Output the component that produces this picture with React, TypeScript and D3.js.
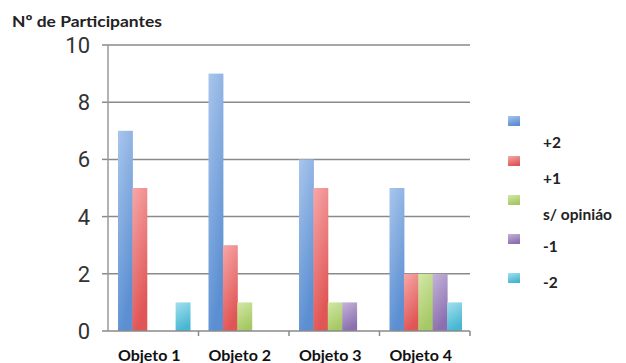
import React from "react";
import * as d3 from "d3";

const categories = ["Objeto 1", "Objeto 2", "Objeto 3", "Objeto 4"];
const seriesNames = ["+2", "+1", "s/ opiniáo", "-1", "-2"];
const valsPlus2 = [7, 9, 6, 5];
const valsPlus1 = [5, 3, 5, 2];
const valsNone = [0, 1, 1, 2];
const valsMinus1 = [0, 0, 1, 2];
const valsMinus2 = [1, 0, 0, 1];
const seriesValues = [valsPlus2, valsPlus1, valsNone, valsMinus1, valsMinus2];
const yTicks = [0, 2, 4, 6, 8, 10];
const colorsLight = ["#a9c6ec", "#f7a8a8", "#d2e8a6", "#c4b4d8", "#a4e0ee"];
const colorsDark = ["#5b8fd2", "#e05555", "#a6c864", "#8b6fb0", "#46b6d2"];

export default function App() {
  const W = 626, H = 363;
  const left = 108, right = 470, top = 45, bottom = 331;
  const x = d3.scaleBand().domain(categories).range([left, right]).padding(0);
  const inner = d3.scaleBand().domain(seriesNames).range([10, 82]).padding(0);
  const y = d3.scaleLinear().domain([0, 10]).range([bottom, top]);
  const legendSq = [121, 161, 200, 239, 278];
  const legendTx = [148, 184, 220, 252, 288];
  const font = "Lato, 'Open Sans', sans-serif";
  return (
    <svg width={W} height={H} style={{ position: "absolute", left: 0, top: 0, background: "#fff" }}>
      <defs>
        {seriesNames.map((s, i) => (
          <linearGradient key={s} id={`g${i}`} x1="0" y1="0" x2="0.35" y2="1">
            <stop offset="0" stopColor={colorsLight[i]} />
            <stop offset="1" stopColor={colorsDark[i]} />
          </linearGradient>
        ))}
      </defs>
      <text x={12} y={27} fontFamily={font} fontWeight={700} fontSize={16} fill="#222" textLength={150} lengthAdjust="spacingAndGlyphs">Nº de Participantes</text>
      {yTicks.map((t) => (
        <g key={t}>
          {t > 0 && <line x1={left} x2={right} y1={y(t)} y2={y(t)} stroke="#8a8a8a" strokeWidth={1.5} />}
          <line x1={left - 6} x2={left} y1={y(t)} y2={y(t)} stroke="#8a8a8a" strokeWidth={1.5} />
          <text x={90} y={y(t) + 8} textAnchor="end" fontFamily="Roboto, sans-serif" fontSize={22} fill="#333">{t}</text>
        </g>
      ))}
      <line x1={left} x2={left} y1={top} y2={bottom} stroke="#9a9a9a" strokeWidth={1.5} />
      {seriesValues.map((vals, si) =>
        vals.map((v, ci) =>
          v > 0 ? (
            <rect key={`${si}-${ci}`} x={(x(categories[ci]) as number) + (inner(seriesNames[si]) as number)}
              y={y(v)} width={inner.bandwidth() + 0.5} height={bottom - y(v)} fill={`url(#g${si})`} />
          ) : null
        )
      )}
      <line x1={left} x2={right} y1={bottom} y2={bottom} stroke="#8a8a8a" strokeWidth={1.5} />
      {categories.map((c) => (
        <line key={c} x1={(x(c) as number) + x.bandwidth()} x2={(x(c) as number) + x.bandwidth()} y1={bottom} y2={bottom + 5} stroke="#8a8a8a" strokeWidth={1.5} />
      ))}
      {categories.map((c) => (
        <text key={c} x={(x(c) as number) + x.bandwidth() / 2 - 4} y={361} textAnchor="middle" fontFamily={font} fontWeight={700} fontSize={16} fill="#111">{c}</text>
      ))}
      {seriesNames.map((s, i) => (
        <g key={s}>
          <rect x={508} y={legendSq[i] - 5} width={12} height={10} fill={`url(#g${i})`} />
          <text x={543} y={legendTx[i]} fontFamily={font} fontWeight={700} fontSize={15.5} fill="#222">{s}</text>
        </g>
      ))}
    </svg>
  );
}
